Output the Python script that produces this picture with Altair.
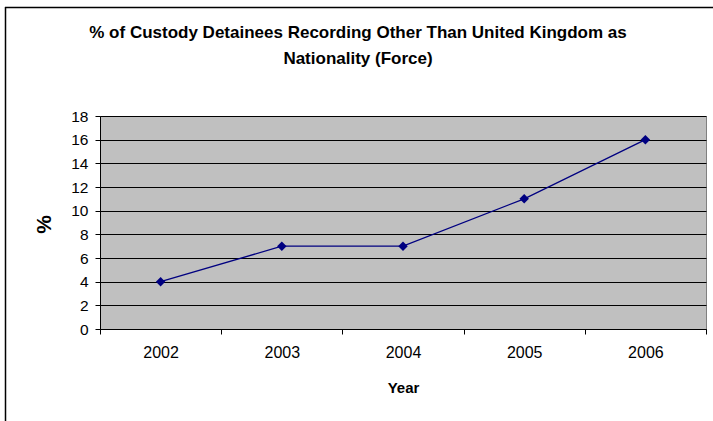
import altair as alt
import pandas as pd

years = ["2002", "2003", "2004", "2005", "2006"]
pct = [4, 7, 7, 11, 16]
title_lines = ["% of Custody Detainees Recording Other Than United Kingdom as",
               "Nationality (Force)"]
y_ticks = [0, 2, 4, 6, 8, 10, 12, 14, 16, 18]

df = pd.DataFrame({"Year": years, "pct": pct})
FONT = "Liberation Sans"
NAVY = "#000080"

x_enc = alt.X("Year:N", sort=years,
              scale=alt.Scale(paddingInner=0, paddingOuter=0),
              axis=alt.Axis(title="Year", labelAngle=0, tickBand="extent",
                            tickSize=5, tickColor="#000000", domainColor="#000000",
                            labelPadding=10, labelFontSize=16, labelFont=FONT,
                            labelColor="#000000",
                            titleFont=FONT, titleFontSize=15, titleFontWeight="bold",
                            titleColor="#000000", titleY=58, titleBaseline="middle",
                            grid=False))
y_enc = alt.Y("pct:Q", scale=alt.Scale(domain=[0, 18], nice=False),
              axis=alt.Axis(title="%", values=y_ticks, tickSize=5,
                            tickColor="#000000", domainColor="#000000",
                            gridColor="#000000", gridWidth=1, gridOpacity=1,
                            labelPadding=7, labelFontSize=15.5, labelFont=FONT,
                            labelColor="#000000",
                            titleFont=FONT, titleFontSize=21, titleFontWeight="bold",
                            titleColor="#000000", titleX=-56, titleY=108,
                            titleAngle=-90, titleAlign="center",
                            titleBaseline="middle"))

line = alt.Chart(df).mark_line(color=NAVY, strokeWidth=1.3).encode(x=x_enc, y=y_enc)
pts = alt.Chart(df).mark_point(shape="diamond", filled=True, size=90,
                               color=NAVY, opacity=1).encode(x=x_enc, y=y_enc)

one = pd.DataFrame({"k": [0]})
t1 = alt.Chart(pd.DataFrame({"t": [title_lines[0]]})).mark_text(
    font=FONT, fontSize=17, fontWeight="bold", color="#000000",
    align="center", baseline="alphabetic").encode(
    text="t:N", x=alt.value(258), y=alt.value(-78))
t2 = alt.Chart(pd.DataFrame({"t": [title_lines[1]]})).mark_text(
    font=FONT, fontSize=17, fontWeight="bold", color="#000000",
    align="center", baseline="alphabetic").encode(
    text="t:N", x=alt.value(258), y=alt.value(-52))

border_left = alt.Chart(one).mark_rule(color="#000000", strokeWidth=1.5).encode(
    x=alt.value(-94.5), y=alt.value(-109), y2=alt.value(310))
border_top = alt.Chart(one).mark_rule(color="#000000", strokeWidth=1.5).encode(
    y=alt.value(-108.5), x=alt.value(-95), x2=alt.value(620))

chart = alt.layer(border_left, border_top, t1, t2, line, pts).properties(
    width=606, height=213,
    autosize=alt.AutoSizeParams(type="none"),
    padding={"left": 100, "top": 116, "right": 7, "bottom": 92},
    background="#ffffff",
).configure_view(fill="#C0C0C0", stroke="#808080", strokeWidth=1)

chart.save("out.html", embed_options={"renderer": "svg", "actions": False})
